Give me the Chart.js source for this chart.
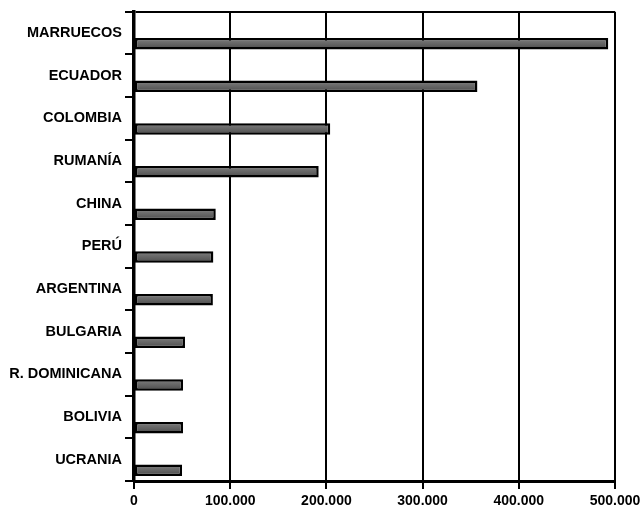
<!DOCTYPE html>
<html>
<head>
<meta charset="utf-8">
<script src="https://cdn.jsdelivr.net/npm/chart.js@4"></script>
<style>
  html, body { margin: 0; padding: 0; background: #fff; }
  #wrap { width: 640px; height: 508px; }
</style>
</head>
<body>
<div id="wrap"><canvas id="chart"></canvas></div>
<script>
// Datos: población extranjera por nacionalidad
const paises = ['MARRUECOS', 'ECUADOR', 'COLOMBIA', 'RUMANÍA', 'CHINA', 'PERÚ',
    'ARGENTINA', 'BULGARIA', 'R. DOMINICANA', 'BOLIVIA', 'UCRANIA'];
const residentes = [493000, 357000, 204000, 192000, 85000, 82500, 82000, 53000, 51000, 51000, 50000];
const ejeX = [0, 100000, 200000, 300000, 400000, 500000];

const formatMiles = (v) => String(v).replace(/\B(?=(\d{3})+(?!\d))/g, '.');

// relleno degradado tipo "cilindro" para cada barra
function barFill(context) {
    const chart = context.chart;
    const y = chart.scales.y;
    if (!y || context.dataIndex === undefined) return '#6a6a6a';
    const band = y.getPixelForValue(1) - y.getPixelForValue(0);
    const c = y.getPixelForValue(context.dataIndex) + band / 4;
    const h = band * 0.5 * 0.54;
    if (!isFinite(c) || !isFinite(h) || h <= 0) return '#6a6a6a';
    const g = chart.ctx.createLinearGradient(0, c - h / 2, 0, c + h / 2);
    g.addColorStop(0, '#8c8c8c');
    g.addColorStop(0.3, '#707070');
    g.addColorStop(1, '#4a4a4a');
    return g;
}

new Chart(document.getElementById('chart'), {
    type: 'bar',
    data: {
        labels: paises,
        datasets: [
            { label: '', data: paises.map(() => null) },
            {
                label: 'Residentes',
                data: residentes,
                backgroundColor: barFill,
                borderColor: '#000',
                borderWidth: 2.5,
                borderSkipped: false
            }
        ]
    },
    options: {
        indexAxis: 'y',
        responsive: true,
        maintainAspectRatio: false,
        animation: false,
        datasets: { bar: { categoryPercentage: 1, barPercentage: 0.54 } },
        layout: { padding: { top: 11, right: 25, left: 0, bottom: 0 } },
        plugins: { legend: { display: false }, tooltip: { enabled: false } },
        scales: {
            x: {
                min: 0,
                max: 500000,
                afterBuildTicks: (scale) => { scale.ticks = ejeX.map(v => ({ value: v })); },
                afterFit: (scale) => {
                    scale.height = 27;
                    scale.paddingLeft = 0;
                    scale.paddingRight = 0;
                },
                grid: { color: '#000', lineWidth: 2, tickLength: 8 },
                border: { color: '#000', width: 3 },
                ticks: {
                    color: '#000',
                    padding: 4,
                    maxRotation: 0,
                    font: { family: 'Liberation Sans, Arial, sans-serif', size: 14, weight: 'bold' },
                    callback: (v) => formatMiles(v)
                }
            },
            y: {
                afterFit: (scale) => { scale.width = 134; },
                grid: {
                    offset: true,
                    color: (ctx) => ctx.index === 0 ? '#000' : 'rgba(0,0,0,0)',
                    tickColor: '#000',
                    lineWidth: 2,
                    tickLength: 9
                },
                border: { color: '#000', width: 3.5 },
                ticks: {
                    color: '#000',
                    padding: 3,
                    font: { family: 'Liberation Sans, Arial, sans-serif', size: 14.5, weight: 'bold' }
                }
            }
        }
    }
});
</script>
</body>
</html>
